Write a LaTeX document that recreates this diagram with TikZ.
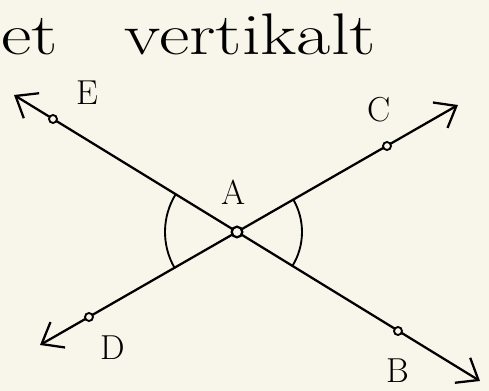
\documentclass[tikz,border=0pt]{standalone}
\usetikzlibrary{arrows.meta}
\definecolor{paper}{RGB}{248,246,234}
\tikzset{
  ray/.style={line width=1.7pt, line cap=round, line join=round,
    {Straight Barb[length=14pt,width=22pt]}-{Straight Barb[length=14pt,width=22pt]}},
  pt/.style={circle, draw, line width=1.4pt, fill=paper, inner sep=0pt, minimum size=6pt},
  lbl/.style={inner sep=0.75pt, font=\fontsize{26}{30}\selectfont},
  arcline/.style={line width=1.4pt, line cap=round}
}
\begin{document}
\begin{tikzpicture}[x=0.75pt,y=0.75pt,yscale=-1,xscale=1]
\useasboundingbox[fill=paper] (0,0) rectangle (489,391);

% Ray ends
\coordinate (tipE) at (14,95);
\coordinate (tipB) at (480,381);
\coordinate (tipD) at (40,345);
\coordinate (tipC) at (458,105);
\coordinate (A) at (237,232);

% Lines
\draw [ray] (tipE) -- (tipB);
\draw [ray] (tipD) -- (tipC);

% Angle arcs
\draw [arcline] (A) ++(150.1:72) arc [start angle=150.1, end angle=211.5, radius=72];
\draw [arcline] (A) ++(-29.9:65) arc [start angle=-29.9, end angle=31.5, radius=65];

% Points
\node [pt] (E) at (53,119) {};
\node [pt] (B) at (398,331) {};
\node [pt] (D) at (89,317) {};
\node [pt] (C) at (387,146) {};
\node [pt, minimum size=8pt, line width=1.7pt] (Apt) at (A) {};

% Text Node
\node [lbl] (labE) at (87,93) {E};
\node [lbl] (labC) at (379,110) {C};
\node [lbl] (labA) at (234,192) {A};
\node [lbl] (labD) at (113,348) {D};
\node [lbl] (labB) at (398,371) {B};
% Title
\node [anchor=base west, inner sep=0pt, font=\fontsize{44}{50}\selectfont] (title) at (1,55) {\scalebox{1.27}[1]{et\hspace{0.9em}vertikalt}};

\end{tikzpicture}
\end{document}
